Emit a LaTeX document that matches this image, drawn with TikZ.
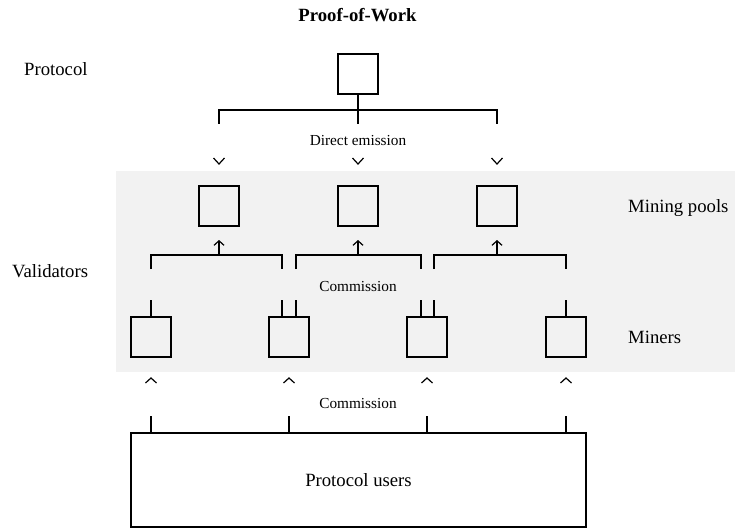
\documentclass[tikz,border=0pt]{standalone}
\usepackage{fontspec}
\setmainfont{Liberation Serif}
\usetikzlibrary{positioning, arrows.meta}

\tikzset{
  box/.style={draw, line width=1.2pt, minimum size=40pt, inner sep=0pt},
  lbl/.style={font=\fontsize{18.7}{22}\selectfont, inner sep=0pt},
  small/.style={font=\fontsize{15.3}{18}\selectfont, inner sep=0pt},
  wire/.style={line width=1.2pt},
  arr/.style={-{Straight Barb[length=4.5pt, width=10pt]}},
  chevdown/.pic={\draw[wire] (-5.5,-3) -- (0,3) -- (5.5,-3);},
  chevup/.pic={\draw[wire] (-5.5,2.5) -- (0,-2.5) -- (5.5,2.5);}
}

\begin{document}
\begin{tikzpicture}[x=1pt, y=-1pt]
\useasboundingbox (0,0) rectangle (735,529);
% validators band
\fill[gray!10] (116,171) rectangle (735,372);

% labels
\node[lbl, font=\fontsize{18.7}{22}\selectfont\bfseries, anchor=base] (title) at (357.5,22) {Proof-of-Work};
\node[lbl, anchor=base west] (protocol) at (24,76) {Protocol};
\node[lbl, anchor=base west] (validators) at (12,277) {Validators};
\node[lbl, anchor=base west] (poolslbl) at (628,212) {Mining pools};
\node[lbl, anchor=base west] (minerslbl) at (628,343) {Miners};

% boxes
\node[box] (proto) at (358,74) {};
\foreach \i/\x in {1/219,2/358,3/497}
\node[box] (pool\i) at (\x,206) {};
\foreach \j/\x in {1/151,2/289,3/427,4/566}
\node[box] (miner\j) at (\x,337) {};
\node[box, lbl, minimum width=455pt, minimum height=94pt] (users) at (358.5,480) {Protocol users};

% direct emission
\coordinate (emit) at (358,110);
\draw[wire] (proto.south) -- (proto |- 0,124);
\draw[wire] (pool1 |- 0,124) |- (emit) -| (pool3 |- 0,124);
\node[small, anchor=base] (emitlbl) at (358,146) {Direct emission};
\foreach \i in {1,2,3}
\pic at (pool\i |- 0,161) {chevdown};

% commission to pools
\foreach \i/\j/\k/\dl/\dr in {1/1/2/0/-7, 2/2/3/7/-6, 3/3/4/7/0} {
  \coordinate (l\i) at ([xshift=\dl pt]miner\j.north);
  \coordinate (r\i) at ([xshift=\dr pt]miner\k.north);
  \draw[wire] (l\i) -- ++(0,-16) (r\i) -- ++(0,-16);
  \draw[wire] (l\i |- 0,269) |- (pool\i |- 0,255) -| (r\i |- 0,269);
  \draw[wire, arr] (pool\i |- 0,255) -- (pool\i |- 0,240);
}
\node[small, anchor=base] (commlbl) at (358,291) {Commission};

% commission from users
\foreach \j in {1,...,4} {
  \draw[wire] (miner\j |- users.north) -- ++(0,-16);
  \pic at (miner\j |- 0,380.5) {chevup};
}
\node[small, anchor=base] (userslbl) at (358,408) {Commission};
\end{tikzpicture}
\end{document}
